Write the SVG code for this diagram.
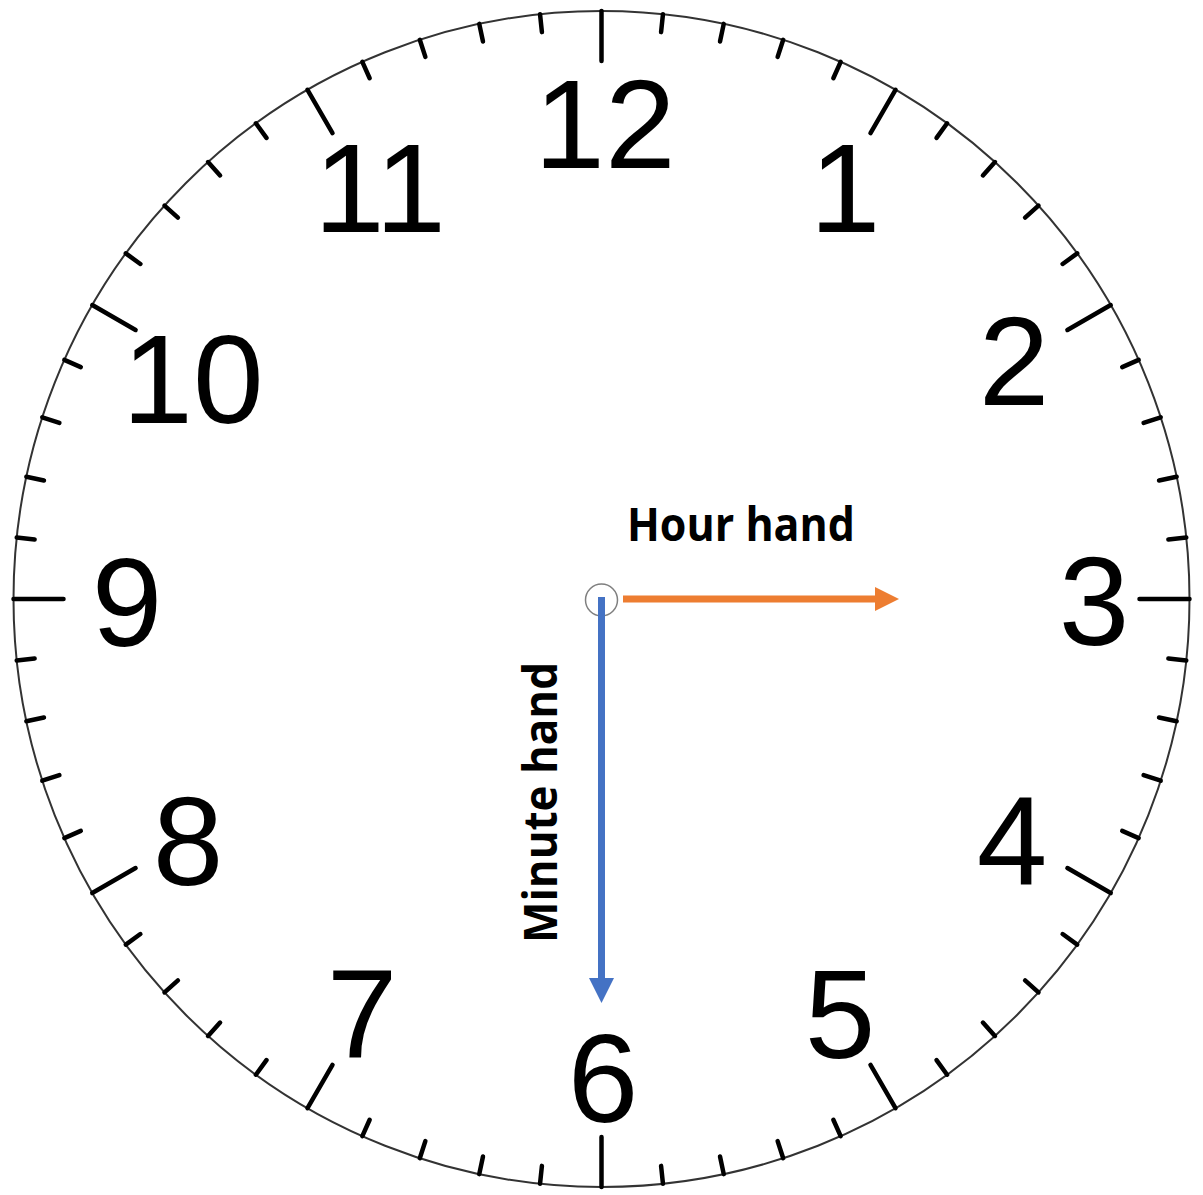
<svg xmlns="http://www.w3.org/2000/svg" xmlns:xlink="http://www.w3.org/1999/xlink" width="1203" height="1195" viewBox="0 0 1203 1195">
<style>
.num{font-family:"Liberation Sans",Arial,sans-serif;font-size:127px;fill:#000;text-anchor:middle}
.lbl{font-family:"Open Sans","Liberation Sans",sans-serif;font-weight:bold;font-size:47px;fill:#000}
.tk{stroke:#000;stroke-width:4.5;stroke-linecap:round}
</style>
<defs>
<line id="maj" class="tk" x1="0" y1="-588" x2="0" y2="-538"/>
<line id="min" class="tk" x1="0" y1="-588" x2="0" y2="-570"/>
</defs>
<rect width="1203" height="1195" fill="#fff"/>
<g id="dial" transform="translate(601.5,599)">
<circle r="588" fill="none" stroke="#333" stroke-width="2"/>
<use xlink:href="#maj" transform="rotate(0)"/>
<use xlink:href="#min" transform="rotate(6)"/>
<use xlink:href="#min" transform="rotate(12)"/>
<use xlink:href="#min" transform="rotate(18)"/>
<use xlink:href="#min" transform="rotate(24)"/>
<use xlink:href="#maj" transform="rotate(30)"/>
<use xlink:href="#min" transform="rotate(36)"/>
<use xlink:href="#min" transform="rotate(42)"/>
<use xlink:href="#min" transform="rotate(48)"/>
<use xlink:href="#min" transform="rotate(54)"/>
<use xlink:href="#maj" transform="rotate(60)"/>
<use xlink:href="#min" transform="rotate(66)"/>
<use xlink:href="#min" transform="rotate(72)"/>
<use xlink:href="#min" transform="rotate(78)"/>
<use xlink:href="#min" transform="rotate(84)"/>
<use xlink:href="#maj" transform="rotate(90)"/>
<use xlink:href="#min" transform="rotate(96)"/>
<use xlink:href="#min" transform="rotate(102)"/>
<use xlink:href="#min" transform="rotate(108)"/>
<use xlink:href="#min" transform="rotate(114)"/>
<use xlink:href="#maj" transform="rotate(120)"/>
<use xlink:href="#min" transform="rotate(126)"/>
<use xlink:href="#min" transform="rotate(132)"/>
<use xlink:href="#min" transform="rotate(138)"/>
<use xlink:href="#min" transform="rotate(144)"/>
<use xlink:href="#maj" transform="rotate(150)"/>
<use xlink:href="#min" transform="rotate(156)"/>
<use xlink:href="#min" transform="rotate(162)"/>
<use xlink:href="#min" transform="rotate(168)"/>
<use xlink:href="#min" transform="rotate(174)"/>
<use xlink:href="#maj" transform="rotate(180)"/>
<use xlink:href="#min" transform="rotate(186)"/>
<use xlink:href="#min" transform="rotate(192)"/>
<use xlink:href="#min" transform="rotate(198)"/>
<use xlink:href="#min" transform="rotate(204)"/>
<use xlink:href="#maj" transform="rotate(210)"/>
<use xlink:href="#min" transform="rotate(216)"/>
<use xlink:href="#min" transform="rotate(222)"/>
<use xlink:href="#min" transform="rotate(228)"/>
<use xlink:href="#min" transform="rotate(234)"/>
<use xlink:href="#maj" transform="rotate(240)"/>
<use xlink:href="#min" transform="rotate(246)"/>
<use xlink:href="#min" transform="rotate(252)"/>
<use xlink:href="#min" transform="rotate(258)"/>
<use xlink:href="#min" transform="rotate(264)"/>
<use xlink:href="#maj" transform="rotate(270)"/>
<use xlink:href="#min" transform="rotate(276)"/>
<use xlink:href="#min" transform="rotate(282)"/>
<use xlink:href="#min" transform="rotate(288)"/>
<use xlink:href="#min" transform="rotate(294)"/>
<use xlink:href="#maj" transform="rotate(300)"/>
<use xlink:href="#min" transform="rotate(306)"/>
<use xlink:href="#min" transform="rotate(312)"/>
<use xlink:href="#min" transform="rotate(318)"/>
<use xlink:href="#min" transform="rotate(324)"/>
<use xlink:href="#maj" transform="rotate(330)"/>
<use xlink:href="#min" transform="rotate(336)"/>
<use xlink:href="#min" transform="rotate(342)"/>
<use xlink:href="#min" transform="rotate(348)"/>
<use xlink:href="#min" transform="rotate(354)"/>
</g>
<g id="numerals">
<text class="num" x="605" y="168">12</text>
<text class="num" x="845" y="232">1</text>
<text class="num" x="1014" y="405">2</text>
<text class="num" x="1094" y="645">3</text>
<text class="num" x="1012" y="885">4</text>
<text class="num" x="840" y="1058">5</text>
<text class="num" x="603" y="1122">6</text>
<text class="num" x="362" y="1058">7</text>
<text class="num" x="188" y="885">8</text>
<text class="num" x="127" y="646">9</text>
<text class="num" x="193" y="423">10</text>
<text class="num" x="380" y="232">11</text>
</g>
<g id="pivot">
<circle cx="601.5" cy="600" r="16" fill="none" stroke="#7f7f7f" stroke-width="1.5"/>
</g>
<g id="connectors">
<g id="hour-hand">
<line x1="623" y1="599" x2="877" y2="599" stroke="#ED7D31" stroke-width="7"/>
<polygon points="875,587 899,599 875,611" fill="#ED7D31"/>
</g>
<g id="minute-hand">
<line x1="601.5" y1="597" x2="601.5" y2="980" stroke="#4472C4" stroke-width="7"/>
<polygon points="589,978 614,978 601.5,1003" fill="#4472C4"/>
</g>
</g>
<g id="labels">
<text class="lbl" x="627" y="541" textLength="228" lengthAdjust="spacingAndGlyphs">Hour hand</text>
<text class="lbl" transform="translate(557,802.5) rotate(-90)" text-anchor="middle" textLength="281" lengthAdjust="spacingAndGlyphs">Minute hand</text>
</g>
</svg>
